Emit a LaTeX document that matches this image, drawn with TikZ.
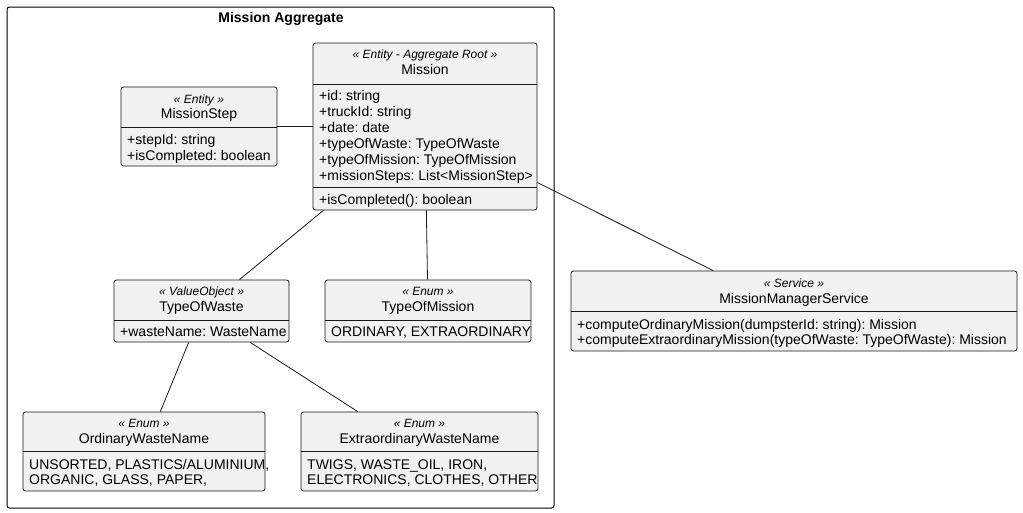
\documentclass[tikz,border=0pt]{standalone}
\usepackage{fontspec}
\setmainfont{Liberation Sans}
\frenchspacing
\definecolor{boxfill}{HTML}{F1F1F1}
\definecolor{boxline}{HTML}{181818}
\tikzset{
  umlbox/.style={draw=boxline, fill=boxfill, line width=0.8pt, rounded corners=2.5pt, rectangle, inner sep=0pt},
  stereo/.style={font=\fontsize{12}{14}\selectfont\itshape\frenchspacing, inner sep=0pt, anchor=base},
  cname/.style={font=\fontsize{14}{16}\selectfont\frenchspacing, inner sep=0pt, anchor=base},
  attr/.style={font=\fontsize{14}{16}\selectfont\frenchspacing, inner sep=0pt, anchor=base west},
  sepline/.style={draw=boxline, line width=0.8pt},
  link/.style={draw=boxline, line width=0.8pt},
  pkg/.style={draw=black, line width=1pt, rounded corners=2.5pt, rectangle, inner sep=0pt},
}
\begin{document}
\begin{tikzpicture}[x=1pt,y=-1pt]
\useasboundingbox[fill=white] (0,0) rectangle (1023,512);
% package
\node[pkg, minimum width=547pt, minimum height=501pt] (pkgbox) at (280.5,257.5) {};
\node[font=\fontsize{14}{16}\selectfont\bfseries, inner sep=0pt, anchor=base] (pkgtitle) at (281,22) {Mission Aggregate};

% Mission
\node[umlbox, minimum width=224pt, minimum height=167pt] (mission) at (425,126.5) {};
\node[stereo] (missionst) at (425,58.3) {« Entity - Aggregate Root »};
\node[cname] (missionnm) at (425,74) {Mission};
\draw[sepline] (313,84) -- (537,84);
\node[attr] (ma1) at (319,100) {+id: string};
\node[attr] (ma2) at (319,116) {+truckId: string};
\node[attr] (ma3) at (319,132) {+date: date};
\node[attr] (ma4) at (319,148) {+typeOfWaste: TypeOfWaste};
\node[attr] (ma5) at (319,164) {+typeOfMission: TypeOfMission};
\node[attr] (ma6) at (319,180) {+missionSteps: List<MissionStep>};
\draw[sepline] (313,187) -- (537,187);
\node[attr] (mm1) at (319,204.5) {+isCompleted(): boolean};

% MissionStep
\node[umlbox, minimum width=156pt, minimum height=79pt] (mstep) at (199,126.5) {};
\node[stereo] (mstepst) at (199,103.3) {« Entity »};
\node[cname] (mstepnm) at (199,118) {MissionStep};
\draw[sepline] (121,127) -- (277,127);
\node[attr] (msa1) at (127,144.5) {+stepId: string};
\node[attr] (msa2) at (127,160) {+isCompleted: boolean};

% TypeOfWaste
\node[umlbox, minimum width=175pt, minimum height=62pt] (tow) at (201.5,311) {};
\node[stereo] (towst) at (201.5,295.3) {« ValueObject »};
\node[cname] (townm) at (201.5,311) {TypeOfWaste};
\draw[sepline] (114,320) -- (289,320);
\node[attr] (towa1) at (120,336) {+wasteName: WasteName};

% TypeOfMission
\node[umlbox, minimum width=206pt, minimum height=62pt] (tom) at (428,311) {};
\node[stereo] (tomst) at (428,295.3) {« Enum »};
\node[cname] (tomnm) at (428,311) {TypeOfMission};
\draw[sepline] (325,320) -- (531,320);
\node[attr] (toma1) at (331,336) {ORDINARY, EXTRAORDINARY};

% OrdinaryWasteName
\node[umlbox, minimum width=242pt, minimum height=79pt] (own) at (144,451.5) {};
\node[stereo] (ownst) at (144,427.3) {« Enum »};
\node[cname] (ownnm) at (144,443) {OrdinaryWasteName};
\draw[sepline] (23,451) -- (265,451);
\node[attr] (owna1) at (29,469) {UNSORTED, PLASTICS/ALUMINIUM,};
\node[attr] (owna2) at (29,484) {ORGANIC, GLASS, PAPER,};

% ExtraordinaryWasteName
\node[umlbox, minimum width=237pt, minimum height=79pt] (ewn) at (419.5,451.5) {};
\node[stereo] (ewnst) at (419.5,427.3) {« Enum »};
\node[cname] (ewnnm) at (419.5,443) {ExtraordinaryWasteName};
\draw[sepline] (301,451) -- (538,451);
\node[attr] (ewna1) at (307,469) {TWIGS, WASTE\_OIL, IRON,};
\node[attr] (ewna2) at (307,484) {ELECTRONICS, CLOTHES, OTHER};

% MissionManagerService
\node[umlbox, minimum width=446pt, minimum height=80pt] (svc) at (794,311) {};
\node[stereo] (svcst) at (794,287.3) {« Service »};
\node[cname] (svcnm) at (794,303) {MissionManagerService};
\draw[sepline] (571,311) -- (1017,311);
\node[attr] (svc1) at (577,329) {+computeOrdinaryMission(dumpsterId: string): Mission};
\node[attr] (svc2) at (577,344) {+computeExtraordinaryMission(typeOfWaste: TypeOfWaste): Mission};

% connectors
\draw[link] (mstep) -- (mission);
\draw[link] (mission) -- (tow);
\draw[link] (mission) -- (tom);
\draw[link] (tow) -- (own);
\draw[link] (tow) -- (ewn);
\draw[link] (mission) -- (svc);
\end{tikzpicture}
\end{document}
